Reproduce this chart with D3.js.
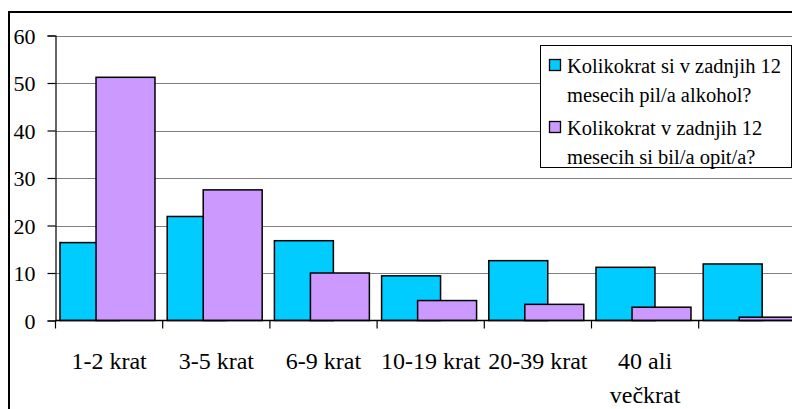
<!DOCTYPE html>
<html>
<head>
<meta charset="utf-8">
<script src="https://cdn.jsdelivr.net/npm/d3@7"></script>
</head>
<body style="margin:0">
<svg id="chart" width="792" height="409"></svg>
<script>
// ---- data ----
const categories = ["1-2 krat", "3-5 krat", "6-9 krat", "10-19 krat", "20-39 krat", "40 ali večkrat", ""];
const categoryLines = [["1-2 krat"], ["3-5 krat"], ["6-9 krat"], ["10-19 krat"], ["20-39 krat"], ["40 ali", "večkrat"], [""]];
const seriesNames = ["Kolikokrat si v zadnjih 12 mesecih pil/a alkohol?", "Kolikokrat v zadnjih 12 mesecih si bil/a opit/a?"];
const seriesLines = [["Kolikokrat si v zadnjih 12", "mesecih pil/a alkohol?"], ["Kolikokrat v zadnjih 12", "mesecih si bil/a opit/a?"]];
const alcohol = [16.4, 21.9, 16.8, 9.4, 12.6, 11.2, 11.9];
const drunk = [51.2, 27.5, 10.0, 4.2, 3.4, 2.8, 0.7];
const yTicks = [0, 10, 20, 30, 40, 50, 60];
const colors = ["#00CCFF", "#CC99FF"];
const FONT = "'Times New Roman', 'Liberation Serif', serif";

const svg = d3.select("#chart");

// outer chart border (cropped on right/bottom)
svg.append("rect").attr("x", 9).attr("y", 12).attr("width", 900).attr("height", 500)
  .attr("fill", "#fff").attr("stroke", "#000").attr("stroke-width", 2);

const plotLeft = 55.5, bandW = 107.2;
const x = d3.scaleBand().domain(categories.map((c, i) => i)).range([plotLeft, plotLeft + bandW * categories.length]).padding(0);
const y = d3.scaleLinear().domain([0, 60]).range([320.5, 35.5]);
const plotRight = plotLeft + bandW * categories.length;

// gridlines
svg.append("g").selectAll("line").data(yTicks.filter(t => t > 0)).join("line")
  .attr("x1", plotLeft).attr("x2", plotRight)
  .attr("y1", d => Math.round(y(d)) + 0.5).attr("y2", d => Math.round(y(d)) + 0.5)
  .attr("stroke", "#808080").attr("stroke-width", 1.2);

// bars
const bw = x.bandwidth();
const barW = bw * 0.55;
const offsets = [bw * 0.042, bw * 0.378];
[alcohol, drunk].forEach((vals, s) => {
  svg.append("g").selectAll("rect").data(vals).join("rect")
    .attr("x", (d, i) => x(i) + offsets[s])
    .attr("y", d => y(d))
    .attr("width", barW)
    .attr("height", d => y(0) - y(d))
    .attr("fill", colors[s])
    .attr("stroke", "#000").attr("stroke-width", 1.5);
});

// y axis
const yAxis = d3.axisLeft(y).tickValues(yTicks).tickSize(8).tickPadding(12).tickFormat(d3.format("d"));
const yg = svg.append("g").attr("transform", `translate(${plotLeft},0)`).call(yAxis);
yg.attr("font-family", null).attr("font-size", null);
yg.select(".domain").attr("stroke", "#000").attr("stroke-width", 1.2);
yg.selectAll(".tick line").attr("stroke", "#000").attr("stroke-width", 1.2);
yg.selectAll(".tick text").style("font-family", FONT).style("font-size", "22px").attr("fill", "#000")
  .attr("dy", "0.36em");

// x axis line + boundary ticks
svg.append("line").attr("x1", plotLeft).attr("x2", plotRight).attr("y1", y(0)).attr("y2", y(0))
  .attr("stroke", "#000").attr("stroke-width", 1.5);
const bounds = categories.map((c, i) => x(i)).concat([plotRight]);
svg.append("g").selectAll("line").data(bounds).join("line")
  .attr("x1", d => d).attr("x2", d => d).attr("y1", y(0)).attr("y2", y(0) + 8)
  .attr("stroke", "#000").attr("stroke-width", 1.2);

// category labels
svg.append("g").selectAll("text").data(categoryLines).join("text")
  .attr("x", (d, i) => x(i) + bw / 2)
  .attr("y", 369)
  .attr("text-anchor", "middle")
  .style("font-family", FONT).style("font-size", "24px").attr("fill", "#000")
  .each(function(lines, i) {
    const t = d3.select(this);
    lines.forEach((ln, k) => {
      t.append("tspan").attr("x", x(i) + bw / 2).attr("dy", k === 0 ? 0 : 33.5).text(ln);
    });
  });

// legend
const lg = svg.append("g");
lg.append("rect").attr("x", 540.5).attr("y", 45.5).attr("width", 251).attr("height", 122)
  .attr("fill", "#fff").attr("stroke", "#000").attr("stroke-width", 1);
const legendBase = [73, 135];
seriesLines.forEach((lines, s) => {
  lg.append("rect").attr("x", 549.5).attr("y", legendBase[s] - 13.5).attr("width", 11).attr("height", 11)
    .attr("fill", colors[s]).attr("stroke", "#000").attr("stroke-width", 1.3);
  const t = lg.append("text").attr("x", 567).attr("y", legendBase[s])
    .style("font-family", FONT).style("font-size", "20.5px").attr("fill", "#000");
  lines.forEach((ln, k) => {
    t.append("tspan").attr("x", 567).attr("dy", k === 0 ? 0 : 28.5).text(ln);
  });
});
</script>
</body>
</html>
